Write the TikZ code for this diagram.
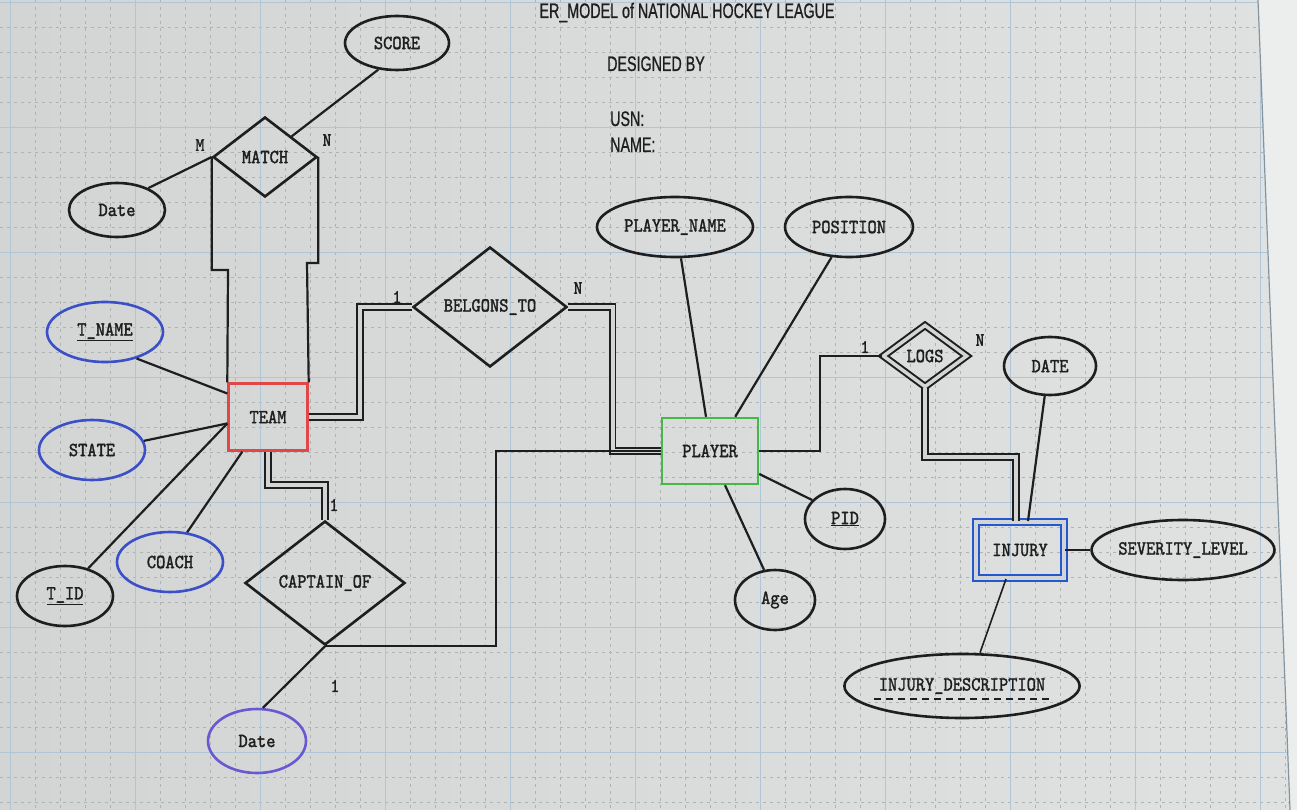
\documentclass[tikz,border=0pt]{standalone}
\usepackage{fontspec}
\setmainfont{lmmono10-regular.otf}[FakeStretch=0.88, FakeBold=1.6]
\newfontfamily\titlefont{Liberation Sans}[FakeStretch=0.68, FakeBold=0.8]
\usetikzlibrary{shapes.geometric,calc}
\definecolor{ink}{HTML}{1E1E1E}
\definecolor{bgL}{HTML}{D2D5D4}
\definecolor{bgR}{HTML}{E0E2E1}
\definecolor{bgedge}{HTML}{ECEEEE}
\definecolor{gridmaj}{HTML}{B0C6D6}
\definecolor{gridmin}{HTML}{B0B3B3}
\definecolor{attblue}{HTML}{3A4FC8}
\definecolor{datepurple}{HTML}{6A58D2}
\definecolor{teamred}{HTML}{E04848}
\definecolor{playgreen}{HTML}{45B845}
\definecolor{injblue}{HTML}{2458D0}
\tikzset{
  lbl/.style={font=\fontsize{20}{23}\selectfont, text=ink},
  attr/.style={ellipse, draw=ink, line width=2.6pt, inner sep=0pt, lbl},
  ent/.style={rectangle, line width=2.4pt, inner sep=0pt, lbl},
  rel/.style={diamond, draw=ink, line width=2.6pt, inner sep=0pt, lbl},
  conn/.style={draw=ink, line width=2.2pt},
  dbl/.style={draw=ink, double=bgL, double distance=3.5pt, line width=1.8pt},
  card/.style={font=\fontsize{19}{21}\selectfont, text=ink, inner sep=0pt},
  ttl/.style={font=\titlefont\fontsize{21}{24}\selectfont, text=ink, inner sep=0pt},
  minorgrid/.style={draw=gridmin, line width=0.6pt, dash pattern=on 3pt off 4pt},
  majorgrid/.style={draw=gridmaj, line width=0.9pt}
}
\begin{document}
\begin{tikzpicture}[x=1pt,y=-1pt]
\useasboundingbox (0,0) rectangle (1297,810);
% background and grid
\shade[left color=bgL, right color=bgR] (0,0) rectangle (1297,810);
\foreach \x in {10,35,...,1297} \draw[minorgrid] (\x,0) -- (\x,810);
\foreach \y in {2,27,...,810} \draw[minorgrid] (0,\y) -- (1297,\y);
\foreach \x in {10,135,...,1297} \draw[majorgrid] (\x,0) -- (\x,810);
\foreach \y in {2,127,...,810} \draw[majorgrid] (0,\y) -- (1297,\y);
\fill[bgedge] (1258,0) -- (1297,0) -- (1297,810) -- (1290,810) -- cycle;
\draw[draw=gridmaj!70!ink, line width=1.2pt] (1258,0) -- (1290,810);

% title block
\node[ttl, anchor=base] (title) at (687,18) {ER\_MODEL of NATIONAL HOCKEY LEAGUE};
\node[ttl, anchor=base west] (designed) at (607,71) {DESIGNED BY};
\node[ttl, anchor=base west] (usn) at (610,126) {USN:};
\node[ttl, anchor=base west] (name) at (610,152) {NAME:};

% nodes
\node[attr, minimum width=104, minimum height=54] (score) at (397,43) {SCORE};
\node[rel, minimum width=104, minimum height=80] (match) at (265,157) {MATCH};
\node[attr, minimum width=96, minimum height=54] (date1) at (117,210) {Date};
\node[attr, draw=attblue, minimum width=116, minimum height=60] (tname) at (105,332) {\underline{T\_NAME}};
\node[attr, draw=attblue, minimum width=106, minimum height=60] (state) at (92,450) {STATE};
\node[attr, minimum width=96, minimum height=60] (tid) at (65,596) {\underline{T\_ID}};
\node[attr, draw=attblue, minimum width=106, minimum height=60] (coach) at (170,562) {COACH};
\node[ent, draw=teamred, minimum width=79, minimum height=67] (team) at (268,417) {TEAM};
\node[rel, minimum width=154, minimum height=120] (belongs) at (490,307) {BELGONS\_TO};
\node[rel, minimum width=160, minimum height=124] (captain) at (325,583) {CAPTAIN\_OF};
\node[attr, draw=datepurple, minimum width=98, minimum height=64] (date2) at (257,741) {Date};
\node[ent, draw=playgreen, minimum width=96, minimum height=66] (player) at (710,451) {PLAYER};
\node[attr, minimum width=156, minimum height=60] (pname) at (675,227) {PLAYER\_NAME};
\node[attr, minimum width=128, minimum height=60] (pos) at (849,227) {POSITION};
\node[attr, minimum width=80, minimum height=60] (pid) at (845,519) {\underline{PID}};
\node[attr, minimum width=80, minimum height=60] (age) at (775,600) {Age};
\node[rel, double=bgL, double distance=3.5pt, line width=2pt, minimum width=84, minimum height=62] (logs) at (925,356) {LOGS};
\node[attr, minimum width=92, minimum height=58] (date3) at (1050,366) {DATE};
\node[ent, draw=injblue, double=bgL, double distance=4pt, line width=2pt, minimum width=88, minimum height=56] (injury) at (1020,550) {INJURY};
\node[attr, minimum width=180, minimum height=60] (sev) at (1183,550) {SEVERITY\_LEVEL};
\node[attr, minimum width=228, minimum height=64] (idesc) at (962,686) {INJURY\_DESCRIPTION};
\draw[ink, line width=2pt, dash pattern=on 7pt off 5pt] ($(idesc.center)+(-88,13)$) -- ($(idesc.center)+(88,13)$);

% connectors
\draw[conn] (score.235) -- (match.north east);
\draw[conn] (date1.35) -- (match.west);
\draw[conn] (match.west) |- (228,270) -- (team.north west);
\draw[conn] (match.east) |- (307,263) -- (team.north east);
\draw[conn] (tname.-40) -- (team.150);
\draw[conn] (state.10) -- (team.189);
\draw[conn] (tid.50) -- (team.189);
\draw[conn] (coach.60) -- ($(team.south west)+(15,0)$);
\draw[dbl] (team.east) -| (360,307) -- (belongs.west);
\draw[dbl] (belongs.east) -| ($(player.west)+(-48,0)$) -- (player.west);
\draw[dbl] (team.south) |- (325,485) -- (captain.north);
\draw[conn] (captain.south) -| ($(player.west)+(-165,0)$) -- (player.west);
\draw[conn] (date2.80) -- (captain.south);
\draw[conn] ($(pname.south)+(6,0)$) -- ($(player.north)+(-4,0)$);
\draw[conn] (pos.240) -- ($(player.north east)+(-24,0)$);
\draw[conn] (player.east) -| ($(logs.west)+(-62,0)$) -- (logs.west);
\draw[dbl] (logs.south) |- (1016,457) -- ($(injury.north)+(-4,0)$);
\draw[conn] (date3.260) -- ($(injury.north)+(8,0)$);
\draw[conn] (injury.east) -- (sev.west);
\draw[conn, line width=1.6pt] ($(injury.south)+(-14,0)$) -- ($(idesc.north)+(18,0)$);
\draw[conn] (player.-25) -- (pid.150);
\draw[conn] ($(player.south)+(15,0)$) -- (age.110);

% cardinalities
\node[card] (cm) at (200,145) {M};
\node[card] (cn) at (327,140) {N};
\node[card] (cb1) at (397,297) {1};
\node[card] (cbn) at (578,288) {N};
\node[card] (cc1) at (334,505) {1};
\node[card] (cc2) at (335,686) {1};
\node[card] (cl1) at (865,347) {1};
\node[card] (cln) at (980,340) {N};
\end{tikzpicture}
\end{document}
